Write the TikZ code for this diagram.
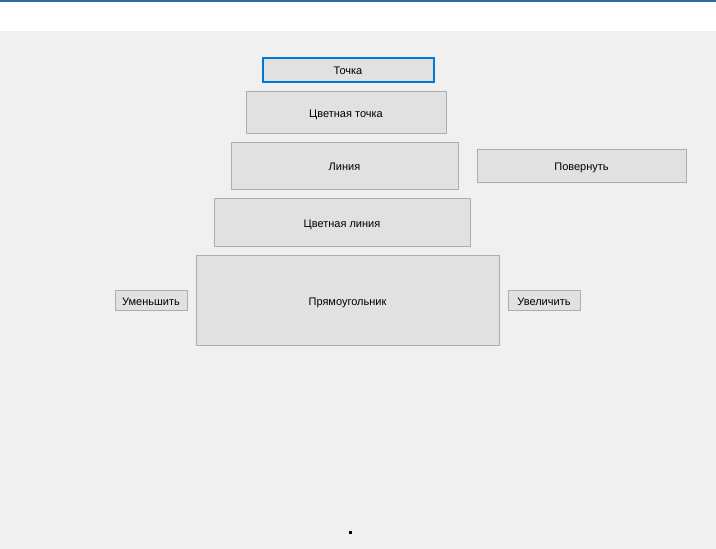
\documentclass[tikz,border=0pt]{standalone}
\usepackage{fontspec}
\setmainfont{Liberation Sans}

\begin{document}
\begin{tikzpicture}
[x=1pt,y=-1pt,line cap=rect,
% Styles
button/.style={draw=btnborder,fill=btnface,line width=1pt,inner sep=0pt,
  text height=10pt,text depth=0pt,
  font=\fontsize{11}{13}\selectfont,text=black},
focused button/.style={button,draw=focuscolor,line width=2pt}]
% Colors
\definecolor{formback}{RGB}{240,240,240}
\definecolor{btnface}{RGB}{225,225,225}
\definecolor{btnborder}{RGB}{173,173,173}
\definecolor{focuscolor}{RGB}{0,120,215}
\definecolor{titleline}{RGB}{43,108,167}
% The window
\useasboundingbox (0,0) rectangle (716,549);
\fill[formback] (0,0) rectangle (716,549);
\fill[white] (0,0) rectangle (716,31);
\fill[titleline] (0,0) rectangle (716,2);
% Buttons
\node[focused button,minimum width=171pt,minimum height=24pt] (tochka) at (348,69.5) {Точка};
\node[button,minimum width=200pt,minimum height=42pt] (cvtochka) at (346,112) {Цветная точка};
\node[button,minimum width=227pt,minimum height=47pt] (liniya) at (344.5,165.5) {Линия};
\node[button,minimum width=209pt,minimum height=33pt] (povernut) at (581.5,165.5) {Повернуть};
\node[button,minimum width=256pt,minimum height=48pt] (cvliniya) at (342,222) {Цветная линия};
\node[button,minimum width=303pt,minimum height=90pt] (pryam) at (347.5,300) {Прямоугольник};
\node[button,minimum width=72pt,minimum height=20pt] (umen) at (151,300) {Уменьшить};
\node[button,minimum width=72pt,minimum height=20pt] (uvel) at (544,300) {Увеличить};
% The point
\fill[black] (349,531) rectangle (352,534);
\end{tikzpicture}
\end{document}
